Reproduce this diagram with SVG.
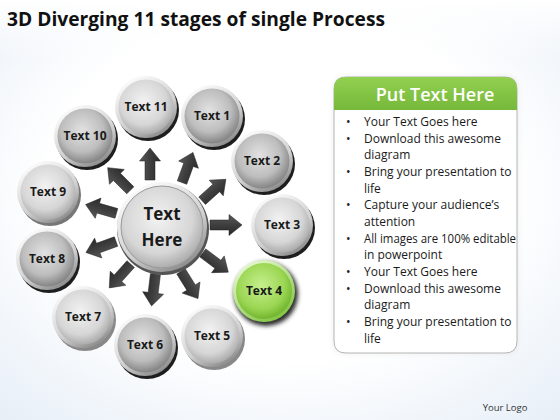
<svg xmlns="http://www.w3.org/2000/svg" width="560" height="420" viewBox="0 0 560 420">
<defs>
  <radialGradient id="bg" cx="0.5" cy="0.45" r="0.75">
    <stop offset="0.55" stop-color="#ffffff"/>
    <stop offset="1" stop-color="#e6eef7"/>
  </radialGradient>
  <linearGradient id="bgtop" x1="0" y1="0" x2="0" y2="1">
    <stop offset="0" stop-color="#ffffff" stop-opacity="1"/>
    <stop offset="1" stop-color="#ffffff" stop-opacity="0"/>
  </linearGradient>
  <linearGradient id="rim" x1="0.2" y1="0" x2="0.8" y2="1">
    <stop offset="0" stop-color="#ffffff"/>
    <stop offset="0.6" stop-color="#d0d0d0"/>
    <stop offset="1" stop-color="#808080"/>
  </linearGradient>
  <radialGradient id="light" cx="0.45" cy="0.4" r="0.6">
    <stop offset="0" stop-color="#f2f2f2"/>
    <stop offset="0.7" stop-color="#d6d6d6"/>
    <stop offset="1" stop-color="#adadad"/>
  </radialGradient>
  <radialGradient id="dark" cx="0.45" cy="0.4" r="0.6">
    <stop offset="0" stop-color="#e2e2e2"/>
    <stop offset="0.65" stop-color="#bdbdbd"/>
    <stop offset="1" stop-color="#858585"/>
  </radialGradient>
  <radialGradient id="green" cx="0.45" cy="0.4" r="0.6">
    <stop offset="0" stop-color="#c6ef8e"/>
    <stop offset="0.7" stop-color="#9bd653"/>
    <stop offset="1" stop-color="#72b52e"/>
  </radialGradient>
  <linearGradient id="greenrim" x1="0.2" y1="0" x2="0.8" y2="1">
    <stop offset="0" stop-color="#eafad6"/>
    <stop offset="1" stop-color="#7cc23a"/>
  </linearGradient>
  <linearGradient id="arrowg" x1="0" y1="0" x2="0" y2="1">
    <stop offset="0" stop-color="#5a5a5a"/>
    <stop offset="0.5" stop-color="#3e3e3e"/>
    <stop offset="1" stop-color="#2a2a2a"/>
  </linearGradient>
  <linearGradient id="hdr" x1="0" y1="0" x2="0" y2="1">
    <stop offset="0" stop-color="#92d050"/>
    <stop offset="1" stop-color="#76b83a"/>
  </linearGradient>
  <filter id="sh" x="-20%" y="-20%" width="140%" height="140%">
    <feGaussianBlur stdDeviation="2"/>
  </filter>
  <path id="arrow" d="M-16,-5 L3,-5 L3,-10.5 L16,0 L3,10.5 L3,5 L-16,5 Z"/>
  <style>
    .shadow { fill: #1e1e1e; }
    .rim { fill: url(#rim); }
    .lt { fill: url(#light); }
    .dk { fill: url(#dark); }
    .lbl { font-family: "Open Sans", "Liberation Sans", sans-serif; font-weight: bold; font-size: 12px; fill: #1a1a1a; text-anchor: middle; }
    .big { font-size: 17px; }
    .arr { fill: url(#arrowg); stroke: #222; stroke-width: 0.5; }
    .bul { font-family: "Open Sans", "Liberation Sans", sans-serif; font-size: 12px; fill: #1a1a1a; }
  </style>
</defs>

<rect x="0" y="0" width="560" height="420" fill="url(#bg)"/>
<rect x="0" y="0" width="560" height="60" fill="url(#bgtop)"/>

<text x="7" y="26" font-family="Open Sans, Liberation Sans, sans-serif" font-weight="bold" font-size="19" fill="#111" textLength="378" lengthAdjust="spacingAndGlyphs">3D Diverging 11 stages of single Process</text>

<g id="connectors">
  <use href="#arrow" class="arr" transform="translate(150,164) rotate(-90)"/>
  <use href="#arrow" class="arr" transform="translate(187.5,167.5) rotate(-70)"/>
  <use href="#arrow" class="arr" transform="translate(214,190) rotate(-42)"/>
  <use href="#arrow" class="arr" transform="translate(226,225) rotate(0)"/>
  <use href="#arrow" class="arr" transform="translate(215.5,262.5) rotate(37)"/>
  <use href="#arrow" class="arr" transform="translate(189.5,285) rotate(58)"/>
  <use href="#arrow" class="arr" transform="translate(153.5,290) rotate(97)"/>
  <use href="#arrow" class="arr" transform="translate(120,276) rotate(132)"/>
  <use href="#arrow" class="arr" transform="translate(101,247) rotate(160)"/>
  <use href="#arrow" class="arr" transform="translate(101,209) rotate(196)"/>
  <use href="#arrow" class="arr" transform="translate(119,179) rotate(225)"/>
</g>

<g id="center" transform="translate(162,227)">
  <circle r="46" cx="1" cy="2" fill="#555"/>
  <circle r="45" class="rim"/>
  <circle r="41" fill="url(#light)" stroke="#9a9a9a" stroke-width="1"/>
  <text class="lbl big" y="-7">Text</text>
  <text class="lbl big" y="19">Here</text>
</g>

<g id="node-11" transform="translate(146,107)">
  <circle r="31" cx="2" cy="3" class="shadow"/>
  <circle r="31" class="rim"/>
  <circle r="27.5" class="lt"/>
  <text class="lbl" y="4">Text 11</text>
</g>
<g id="node-1" transform="translate(212,116)">
  <circle r="31" cx="2" cy="3" class="shadow"/>
  <circle r="31" class="rim"/>
  <circle r="27.5" class="dk"/>
  <text class="lbl" y="4">Text 1</text>
</g>
<g id="node-2" transform="translate(262,161)">
  <circle r="31" cx="2" cy="3" class="shadow"/>
  <circle r="31" class="rim"/>
  <circle r="27.5" class="dk"/>
  <text class="lbl" y="4">Text 2</text>
</g>
<g id="node-3" transform="translate(282,225)">
  <circle r="31" cx="2" cy="3" class="shadow"/>
  <circle r="31" class="rim"/>
  <circle r="27.5" class="lt"/>
  <text class="lbl" y="4">Text 3</text>
</g>
<g id="node-4" transform="translate(264,291)">
  <circle r="32" cx="2" cy="3" fill="#2a2a2a" filter="url(#sh)"/>
  <circle r="31" fill="url(#greenrim)"/>
  <circle r="28" fill="url(#green)"/>
  <text class="lbl" y="4">Text 4</text>
</g>
<g id="node-5" transform="translate(212,336)">
  <circle r="31" cx="2" cy="3" fill="#888"/>
  <circle r="31" class="rim"/>
  <circle r="27.5" class="lt"/>
  <text class="lbl" y="4">Text 5</text>
</g>
<g id="node-6" transform="translate(145,345)">
  <circle r="31" cx="2" cy="3" class="shadow"/>
  <circle r="31" class="rim"/>
  <circle r="27.5" class="dk"/>
  <text class="lbl" y="4">Text 6</text>
</g>
<g id="node-7" transform="translate(83,317)">
  <circle r="31" cx="2" cy="3" fill="#888"/>
  <circle r="31" class="rim"/>
  <circle r="27.5" class="lt"/>
  <text class="lbl" y="4">Text 7</text>
</g>
<g id="node-8" transform="translate(47,259)">
  <circle r="31" cx="2" cy="3" class="shadow"/>
  <circle r="31" class="rim"/>
  <circle r="27.5" class="dk"/>
  <text class="lbl" y="4">Text 8</text>
</g>
<g id="node-9" transform="translate(48,192)">
  <circle r="31" cx="2" cy="3" fill="#777"/>
  <circle r="31" class="rim"/>
  <circle r="27.5" class="lt"/>
  <text class="lbl" y="4">Text 9</text>
</g>
<g id="node-10" transform="translate(85,136)">
  <circle r="31" cx="2" cy="3" class="shadow"/>
  <circle r="31" class="rim"/>
  <circle r="27.5" class="dk"/>
  <text class="lbl" y="4">Text 10</text>
</g>

<g id="panel">
  <path d="M346,77 L505,77 Q517,77 517,89 L517,341 Q517,353 505,353 L346,353 Q334,353 334,341 L334,89 Q334,77 346,77 Z" fill="#ffffff" stroke="#b0b0b0" stroke-width="1.2" filter="url(#sh)" opacity="0.6"/>
  <path d="M346,77 L505,77 Q517,77 517,89 L517,341 Q517,353 505,353 L346,353 Q334,353 334,341 L334,89 Q334,77 346,77 Z" fill="#ffffff" stroke="#b5b5b5" stroke-width="1"/>
  <path d="M346,77 L505,77 Q517,77 517,89 L517,110 L334,110 L334,89 Q334,77 346,77 Z" fill="url(#hdr)"/>
  <text x="435" y="101" font-family="Open Sans, Liberation Sans, sans-serif" font-size="18" font-weight="600" fill="#ffffff" text-anchor="middle">Put Text Here</text>
  <g class="bul">
    <text x="346" y="126">•</text><text x="364" y="126">Your Text Goes here</text>
    <text x="346" y="143">•</text><text x="364" y="143">Download this awesome</text>
    <text x="364" y="159">diagram</text>
    <text x="346" y="176">•</text><text x="364" y="176">Bring your presentation to</text>
    <text x="364" y="193">life</text>
    <text x="346" y="209">•</text><text x="364" y="209">Capture your audience’s</text>
    <text x="364" y="226">attention</text>
    <text x="346" y="243">•</text><text x="364" y="243" textLength="152" lengthAdjust="spacingAndGlyphs">All images are 100% editable</text>
    <text x="364" y="259">in powerpoint</text>
    <text x="346" y="276">•</text><text x="364" y="276">Your Text Goes here</text>
    <text x="346" y="293">•</text><text x="364" y="293">Download this awesome</text>
    <text x="364" y="309">diagram</text>
    <text x="346" y="326">•</text><text x="364" y="326">Bring your presentation to</text>
    <text x="364" y="343">life</text>
  </g>
</g>

<text x="505" y="411" font-family="Open Sans, Liberation Sans, sans-serif" font-size="9.5" fill="#333" text-anchor="middle">Your Logo</text>
</svg>
